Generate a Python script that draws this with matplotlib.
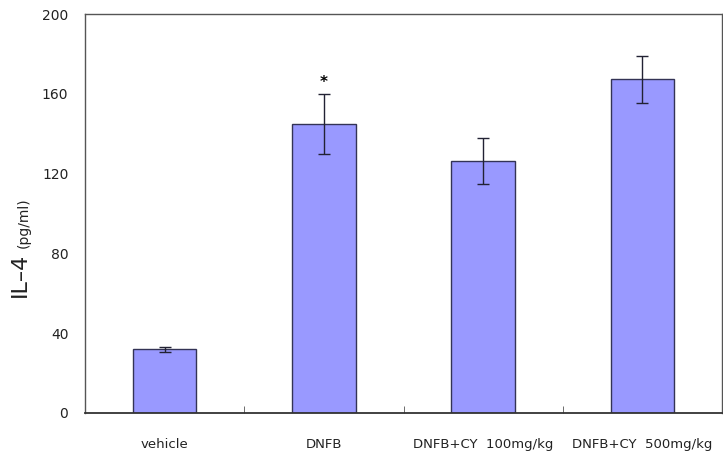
import matplotlib.pyplot as plt
import numpy as np

groups = ["vehicle", "DNFB", "DNFB+CY  100mg/kg", "DNFB+CY  500mg/kg"]
il4 = [32.0, 144.7, 126.3, 167.3]
il4_err = [1.2, 15.0, 11.5, 11.8]
signif = ["", "*", "", ""]

fig = plt.figure(figsize=(7.23, 4.55), dpi=100)
ax = fig.add_axes([85 / 723, 42 / 455, 637 / 723, 399 / 455])

x = np.arange(len(groups))
ax.bar(x, il4, width=0.4, color="#9999ff", edgecolor="#333355", linewidth=1.0, zorder=2)
ax.errorbar(x, il4, yerr=il4_err, fmt="none", ecolor="#222233", elinewidth=1.0,
            capsize=4, capthick=1.0, zorder=3)

# significance marks above the error bars
for xi, v, e, s in zip(x, il4, il4_err, signif):
    if s:
        ax.text(xi, v + e + 2, s, ha="center", va="bottom", fontsize=11, fontweight="bold")

ax.set_xlim(-0.5, len(groups) - 0.5)
ax.set_ylim(0, 200)
ax.set_yticks([0, 40, 80, 120, 160, 200])
ax.set_xticks(x)
ax.set_xticklabels(groups)
ax.set_xticks(x[:-1] + 0.5, minor=True)
ax.tick_params(axis="x", which="major", length=0, pad=18, labelsize=9.5, labelcolor="#222222")
ax.tick_params(axis="x", which="minor", direction="in", length=5, color="#555555")
ax.tick_params(axis="y", length=0, pad=12, labelsize=10, labelcolor="#222222")

for side in ["left", "right", "top"]:
    ax.spines[side].set_color("#555555")
    ax.spines[side].set_linewidth(1.0)
ax.spines["bottom"].set_color("#333333")
ax.spines["bottom"].set_linewidth(1.3)

fig.text(0.027, 0.347, "IL\u20134", rotation=90, ha="center", va="bottom", fontsize=16,
         color="#222222")
fig.text(0.033, 0.455, "(pg/ml)", rotation=90, ha="center", va="bottom", fontsize=10,
         color="#222222")

fig.savefig("out.png", dpi=100)
